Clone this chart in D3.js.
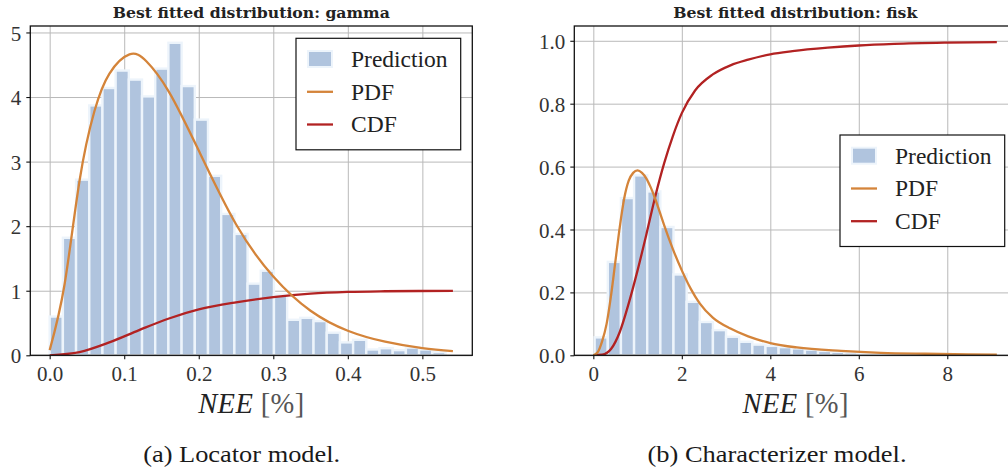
<!DOCTYPE html>
<html><head><meta charset="utf-8">
<script src="https://cdn.jsdelivr.net/npm/d3@7"></script>
<style>body{margin:0;background:#fff}svg{display:block}</style>
</head><body><svg id="c" width="1008" height="472"></svg>
<script>
// ---------- Data: (a) Locator model, gamma fit ----------
const leftTitle = "Best fitted distribution: gamma";
const leftCaption = "(a) Locator model.";
const leftBinEdges = [0.0000,0.0177,0.0354,0.0531,0.0708,0.0885,0.1062,0.1239,0.1416,0.1593,0.1770,0.1947,0.2124,0.2301,0.2478,0.2655,0.2832,0.3009,0.3186,0.3363,0.3540,0.3717,0.3894,0.4071,0.4248,0.4425,0.4602,0.4779,0.4956,0.5133,0.5310];
const leftDensity = [0.60,1.82,2.72,3.87,4.14,4.41,4.27,4.01,4.44,4.84,4.17,3.65,2.78,2.19,1.88,1.11,1.31,0.94,0.55,0.58,0.53,0.35,0.20,0.24,0.09,0.11,0.08,0.12,0.09,0.05];
const leftPdfX = [0,0.02,0.04,0.06,0.08,0.107,0.13,0.16,0.20,0.25,0.30,0.35,0.40,0.45,0.50,0.541];
const leftPdfY = [0.08,1.10,2.70,3.78,4.36,4.66,4.55,4.08,3.17,2.03,1.22,0.69,0.38,0.21,0.11,0.066];
const leftCdfX = [0,0.04,0.08,0.12,0.16,0.20,0.25,0.30,0.35,0.40,0.45,0.541];
const leftCdfY = [0,0.05,0.20,0.39,0.57,0.71,0.82,0.90,0.955,0.982,0.992,0.998];
const leftXTicks = [0.0,0.1,0.2,0.3,0.4,0.5];
const leftYTicks = [0,1,2,3,4,5];

// ---------- Data: (b) Characterizer model, fisk fit ----------
const rightTitle = "Best fitted distribution: fisk";
const rightCaption = "(b) Characterizer model.";
const rightBinEdges = [0.030,0.327,0.624,0.921,1.218,1.515,1.812,2.109,2.406,2.703,3.000,3.297,3.594,3.891,4.188,4.485,4.782,5.079,5.376,5.673,5.970,6.267,6.564,6.861,7.158,7.455,7.752,8.049,8.346,8.643,8.940];
const rightDensity = [0.057,0.297,0.500,0.572,0.521,0.408,0.257,0.170,0.106,0.080,0.059,0.043,0.034,0.030,0.026,0.022,0.018,0.014,0.011,0.009,0.007,0.006,0.005,0.004,0.003,0.003,0.002,0.002,0.001,0.001];
const rightPdfX = [0,0.1,0.2,0.3,0.4,0.5,0.6,0.7,0.8,0.9,1.0,1.1,1.2,1.3,1.4,1.5,1.6,1.8,2.0,2.2,2.4,2.7,3.1,3.5,4.0,4.6,5.6,6.5,7.5,8.5,9.12];
const rightPdfY = [0,0.01,0.045,0.10,0.19,0.30,0.41,0.50,0.555,0.58,0.588,0.58,0.562,0.533,0.497,0.456,0.414,0.337,0.270,0.212,0.166,0.120,0.085,0.06,0.039,0.025,0.014,0.008,0.005,0.003,0.002];
const rightCdfX = [0,0.2,0.4,0.6,0.8,1.0,1.2,1.4,1.6,1.8,2.0,2.3,2.7,3.1,3.5,4.0,4.5,5.3,6.0,6.8,8.0,9.12];
const rightCdfY = [0,0.002,0.02,0.075,0.165,0.27,0.385,0.505,0.61,0.698,0.77,0.842,0.893,0.922,0.94,0.957,0.967,0.978,0.985,0.99,0.994,0.996];
const rightXTicks = [0,2,4,6,8];
const rightYTicks = [0.0,0.2,0.4,0.6,0.8,1.0];

const legendLabels = ["Prediction","PDF","CDF"];
const xLabelItalic = "NEE", xLabelUnit = " [%]";

// ---------- Drawing ----------
const svg = d3.select("#c");
const COL_BAR = "#b0c4de", COL_BAR_EDGE = "#edf4fb", COL_PDF = "#d4843a", COL_CDF = "#b22222";
const SERIF = "'Liberation Serif','Times New Roman',serif";

function drawPanel(p) {
  const x = d3.scaleLinear().domain(p.xDomain).range([p.left, p.right]);
  const y = d3.scaleLinear().domain(p.yDomain).range([p.bottom, p.top]);
  const g = svg.append("g");
  const clipId = "clip" + p.id;
  svg.append("clipPath").attr("id", clipId).append("rect")
    .attr("x", p.left).attr("y", p.top).attr("width", p.right - p.left).attr("height", p.bottom - p.top);

  // grid
  g.append("g").attr("transform", `translate(0,${p.bottom})`)
    .call(d3.axisBottom(x).tickValues(p.xTicks).tickSize(-(p.bottom - p.top)).tickFormat(""))
    .call(a => { a.select(".domain").remove(); a.selectAll("line").attr("stroke", "#b9b9b9").attr("stroke-width", 1); });
  g.append("g").attr("transform", `translate(${p.left},0)`)
    .call(d3.axisLeft(y).tickValues(p.yTicks).tickSize(-(p.right - p.left)).tickFormat(""))
    .call(a => { a.select(".domain").remove(); a.selectAll("line").attr("stroke", "#b9b9b9").attr("stroke-width", 1); });

  const plot = g.append("g").attr("clip-path", `url(#${clipId})`);
  const bins = p.density.map((d, i) => ({x0: p.edges[i], x1: p.edges[i + 1], v: d}));
  plot.selectAll("rect.bar").data(bins).join("rect").attr("class", "bar")
    .attr("x", d => x(d.x0)).attr("width", d => x(d.x1) - x(d.x0))
    .attr("y", d => y(d.v)).attr("height", d => y(0) - y(d.v))
    .attr("fill", COL_BAR).attr("stroke", COL_BAR_EDGE).attr("stroke-width", 2.4);

  const pdfLine = d3.line().x(d => x(d[0])).y(d => y(d[1])).curve(p.pdfCurve);
  const cdfLine = d3.line().x(d => x(d[0])).y(d => y(d[1])).curve(d3.curveMonotoneX);
  plot.append("path").datum(d3.zip(p.cdfX, p.cdfY)).attr("d", cdfLine)
    .attr("fill", "none").attr("stroke", COL_CDF).attr("stroke-width", 2.3);
  plot.append("path").datum(d3.zip(p.pdfX, p.pdfY)).attr("d", pdfLine)
    .attr("fill", "none").attr("stroke", COL_PDF).attr("stroke-width", 2.3);

  // axes with ticks + labels
  const xa = g.append("g").attr("transform", `translate(0,${p.bottom})`)
    .call(d3.axisBottom(x).tickValues(p.xTicks).tickSize(4).tickPadding(6).tickFormat(p.xFmt));
  const ya = g.append("g").attr("transform", `translate(${p.left},0)`)
    .call(d3.axisLeft(y).tickValues(p.yTicks).tickSize(4).tickPadding(5).tickFormat(p.yFmt));
  [xa, ya].forEach(a => {
    a.select(".domain").remove();
    a.selectAll("line").attr("stroke", "#111").attr("stroke-width", 1.1);
    a.selectAll("text").attr("font-family", SERIF).attr("font-size", 21).attr("fill", "#333");
  });
  xa.selectAll("text").attr("dy", null).attr("y", 25.5);
  ya.selectAll("text").attr("dy", "0.36em");

  // spines
  g.append("rect").attr("x", p.left).attr("y", p.top).attr("width", p.right - p.left).attr("height", p.bottom - p.top)
    .attr("fill", "none").attr("stroke", "#111").attr("stroke-width", 1.3);

  // title
  const cx = (p.left + p.right) / 2;
  g.append("text").attr("x", cx).attr("y", 18.3).attr("text-anchor", "middle")
    .attr("font-family", "'DejaVu Serif',serif").attr("font-weight", "bold").attr("font-size", 14.5)
    .attr("fill", "#222").attr("textLength", p.titleW).attr("lengthAdjust", "spacingAndGlyphs").text(p.title);

  // x label
  const xl = g.append("text").attr("x", p.xlabelX).attr("y", 412.7).attr("text-anchor", "middle")
    .attr("font-family", SERIF).attr("font-size", 28.5).attr("fill", "#222")
    .attr("textLength", 106).attr("lengthAdjust", "spacing");
  xl.append("tspan").attr("font-style", "italic").text(xLabelItalic);
  xl.append("tspan").attr("fill", "#555").text(xLabelUnit);

  // caption
  g.append("text").attr("x", p.capX).attr("y", 461.5).attr("text-anchor", "middle")
    .attr("font-family", SERIF).attr("font-size", 23).attr("fill", "#1a1a1a")
    .attr("textLength", p.capW).attr("lengthAdjust", "spacingAndGlyphs").text(p.caption);

  // legend
  const L = g.append("g").attr("transform", `translate(${p.legX},${p.legY})`);
  L.append("rect").attr("width", 164.7).attr("height", 111.5).attr("fill", "#fff")
    .attr("stroke", "#111").attr("stroke-width", 1.2);
  const rows = [20.7, 53.5, 86.2];
  L.append("rect").attr("x", 12).attr("y", rows[0] - 8).attr("width", 24).attr("height", 16)
    .attr("fill", COL_BAR).attr("stroke", COL_BAR_EDGE).attr("stroke-width", 2);
  [[COL_PDF, rows[1]], [COL_CDF, rows[2]]].forEach(([c, yy]) =>
    L.append("line").attr("x1", 11).attr("x2", 37).attr("y1", yy).attr("y2", yy)
      .attr("stroke", c).attr("stroke-width", 2.3));
  legendLabels.forEach((t, i) =>
    L.append("text").attr("x", 55).attr("y", rows[i]).attr("dy", "0.34em")
      .attr("font-family", SERIF).attr("font-size", 23.5).attr("fill", "#222").text(t));
}

drawPanel({
  id: "L", left: 30.3, right: 472.3, top: 26, bottom: 355.3,
  xDomain: [-0.026, 0.567], yDomain: [0, 5.1],
  edges: leftBinEdges, density: leftDensity,
  pdfX: leftPdfX, pdfY: leftPdfY, cdfX: leftCdfX, cdfY: leftCdfY, pdfCurve: d3.curveNatural,
  xTicks: leftXTicks, yTicks: leftYTicks, xFmt: d3.format(".1f"), yFmt: d3.format("d"),
  title: leftTitle, titleW: 277, xlabelX: 251.2, caption: leftCaption, capX: 241.7, capW: 197,
  legX: 296, legY: 38.3
});
drawPanel({
  id: "R", left: 574.3, right: 1016.3, top: 26, bottom: 355.3,
  xDomain: [-0.43, 9.56], yDomain: [0, 1.047],
  edges: rightBinEdges, density: rightDensity,
  pdfX: rightPdfX, pdfY: rightPdfY, cdfX: rightCdfX, cdfY: rightCdfY, pdfCurve: d3.curveMonotoneX,
  xTicks: rightXTicks, yTicks: rightYTicks, xFmt: d3.format("d"), yFmt: d3.format(".1f"),
  title: rightTitle, titleW: 244, xlabelX: 795.5, caption: rightCaption, capX: 777, capW: 259,
  legX: 840, legY: 135
});
</script></body></html>
